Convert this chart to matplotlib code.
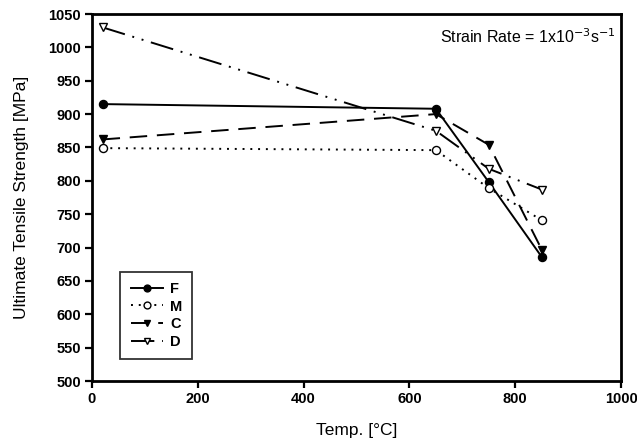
import matplotlib
matplotlib.use("Agg")
import matplotlib.pyplot as plt

temps = [20, 650, 750, 850]
F = [915, 908, 798, 686]
M = [849, 846, 789, 741]
C = [862, 900, 854, 697]
D = [1030, 875, 818, 787]

x_ticks = [0, 200, 400, 600, 800, 1000]
y_ticks = list(range(500, 1051, 50))

plt.rcParams['font.family'] = ['Liberation Sans', 'DejaVu Sans']

fig = plt.figure(figsize=(6.37, 4.46), dpi=100)
ax = fig.add_axes([0.1444, 0.1457, 0.8306, 0.8229])

lw = 1.4
ms = 5.8
ax.plot(temps, F, color='black', lw=lw, ls='-', marker='o', ms=ms, mfc='black', mec='black', label='F')
ax.plot(temps, M, color='black', lw=lw, ls=(0, (1, 3)), marker='o', ms=ms, mfc='white', mec='black', label='M')
ax.plot(temps, C, color='black', lw=lw, ls=(0, (9, 5)), marker='v', ms=ms, mfc='black', mec='black', label='C')
ax.plot(temps, D, color='black', lw=lw, ls=(0, (12, 4, 1, 4, 1, 4)), marker='v', ms=ms, mfc='white', mec='black', label='D')

ax.set_xlim(0, 1000)
ax.set_ylim(500, 1050)
ax.set_xticks(x_ticks)
ax.set_yticks(y_ticks)
ax.tick_params(direction='out', length=5, width=1.6, labelsize=10.5, pad=3)
for lab in ax.get_xticklabels() + ax.get_yticklabels():
    lab.set_fontweight('bold')
for s in ax.spines.values():
    s.set_linewidth(2.0)

ax.set_xlabel('Temp. [°C]', fontsize=12.5, labelpad=12)
ax.set_ylabel('Ultimate Tensile Strength [MPa]', fontsize=12.5, labelpad=14)

ax.text(0.99, 0.965, r'Strain Rate = 1x10$^{-3}$s$^{-1}$', transform=ax.transAxes,
        ha='right', va='top', fontsize=11.5)

leg = ax.legend(loc='lower left', bbox_to_anchor=(0.04, 0.04), frameon=True, fancybox=False,
                edgecolor='black', handlelength=2.2, borderpad=0.7, markerscale=0.85,
                labelspacing=0.25, handletextpad=0.5, prop={'weight': 'bold', 'size': 10.5})
leg.get_frame().set_linewidth(1.3)

fig.savefig('out.png', dpi=100)
